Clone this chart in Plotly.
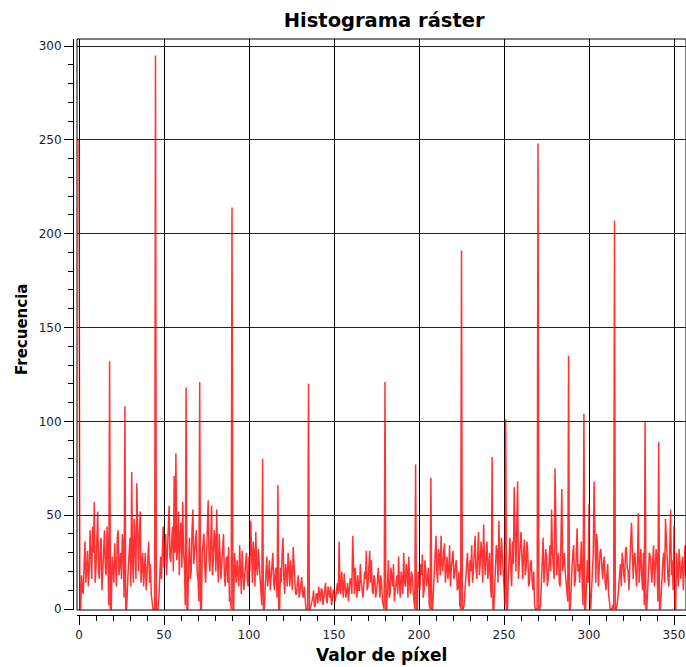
import plotly.graph_objects as go

# Frequencies.
# freq_whole[i] is the count at pixel value i, freq_half[i] at pixel value i + 0.5
freq_whole = [
    250, 0, 10, 24, 14, 31, 20, 28, 44, 57,
    22, 52, 16, 38, 25, 42, 18, 30, 132, 0,
    20, 35, 12, 42, 24, 16, 33, 108, 0, 22,
    38, 73, 14, 28, 67, 20, 52, 26, 12, 30,
    18, 36, 24, 2, 0, 295, 0, 6, 28, 36,
    22, 40, 30, 55, 25, 44, 71, 83, 32, 18,
    46, 57, 24, 118, 0, 38, 20, 53, 30, 42,
    16, 121, 0, 34, 22, 28, 58, 20, 55, 26,
    38, 53, 14, 30, 24, 40, 12, 28, 33, 6,
    214, 0, 18, 26, 12, 22, 31, 10, 24, 16,
    28, 47, 14, 30, 41, 18, 24, 8, 80, 0,
    20, 12, 26, 16, 30, 10, 22, 66, 0, 14,
    38, 8, 20, 30, 12, 18, 33, 14, 8, 18,
    10, 17, 6, 2, 0, 120, 0, 4, 10, 2,
    8, 12, 4, 10, 6, 14, 3, 9, 12, 5,
    10, 6, 14, 36, 8, 12, 19, 6, 14, 10,
    16, 39, 8, 14, 18, 10, 15, 6, 20, 31,
    12, 31, 26, 8, 16, 10, 22, 6, 14, 2,
    121, 0, 26, 8, 16, 24, 10, 18, 28, 6,
    16, 30, 12, 20, 28, 8, 18, 4, 77, 0,
    14, 24, 29, 10, 20, 16, 2, 70, 0, 22,
    39, 14, 28, 39, 20, 35, 24, 16, 34, 22,
    31, 18, 26, 12, 2, 191, 0, 10, 24, 18,
    26, 34, 20, 39, 16, 41, 24, 30, 45, 18,
    36, 26, 14, 81, 0, 22, 30, 47, 18, 26,
    12, 101, 0, 30, 22, 36, 65, 20, 68, 28,
    41, 16, 37, 22, 30, 14, 26, 10, 2, 0,
    248, 0, 14, 38, 20, 28, 16, 34, 53, 22,
    75, 18, 30, 12, 64, 26, 20, 10, 135, 0,
    22, 34, 16, 43, 24, 30, 12, 104, 0, 26,
    56, 0, 20, 68, 14, 34, 22, 32, 16, 28,
    10, 24, 4, 0, 2, 207, 0, 6, 18, 12,
    26, 14, 33, 20, 28, 46, 16, 30, 12, 51,
    24, 18, 30, 100, 0, 22, 28, 14, 34, 20,
    26, 89, 0, 18, 30, 48, 22, 12, 53, 26,
    44, 0, 20, 32, 16, 28, 29, 18, 24, 14,
]
freq_half = [
    0, 18, 8, 36, 22, 12, 42, 16, 30, 14,
    40, 20, 34, 10, 30, 22, 44, 2, 0, 28,
    14, 26, 38, 18, 30, 40, 6, 0, 16, 30,
    12, 26, 48, 16, 26, 40, 14, 30, 22, 10,
    32, 14, 8, 0, 0, 0, 0, 24, 16, 44,
    34, 18, 48, 28, 36, 20, 30, 26, 52, 40,
    22, 30, 2, 0, 26, 16, 42, 24, 36, 20,
    4, 0, 30, 40, 14, 46, 26, 36, 18, 42,
    20, 26, 40, 16, 34, 18, 26, 14, 4, 0,
    0, 30, 14, 20, 34, 8, 22, 18, 30, 12,
    20, 24, 36, 12, 22, 32, 14, 2, 0, 16,
    28, 18, 10, 24, 14, 20, 6, 0, 22, 30,
    16, 24, 12, 22, 26, 10, 20, 8, 14, 6,
    14, 8, 12, 0, 0, 0, 2, 6, 1, 8,
    3, 6, 11, 2, 10, 5, 12, 6, 2, 10,
    4, 12, 8, 10, 20, 6, 14, 10, 4, 16,
    8, 14, 22, 6, 10, 24, 8, 12, 16, 10,
    22, 14, 10, 18, 6, 14, 10, 18, 4, 0,
    0, 14, 6, 22, 12, 4, 16, 8, 14, 20,
    8, 14, 24, 6, 14, 20, 10, 0, 0, 20,
    10, 18, 6, 26, 12, 22, 0, 0, 12, 30,
    20, 32, 18, 24, 30, 14, 28, 20, 12, 30,
    16, 24, 10, 20, 0, 0, 2, 16, 30, 12,
    20, 14, 30, 22, 28, 18, 36, 14, 26, 30,
    16, 30, 6, 0, 18, 34, 14, 26, 38, 20,
    2, 0, 16, 38, 12, 24, 30, 44, 16, 34,
    22, 30, 18, 36, 12, 24, 16, 20, 0, 0,
    0, 2, 26, 14, 32, 12, 24, 20, 30, 16,
    34, 26, 14, 36, 20, 30, 14, 4, 0, 16,
    30, 12, 28, 20, 14, 36, 2, 0, 18, 14,
    8, 10, 30, 22, 40, 12, 30, 18, 24, 14,
    18, 8, 0, 0, 0, 0, 2, 16, 24, 30,
    18, 32, 22, 10, 36, 22, 28, 20, 26, 14,
    32, 10, 2, 0, 14, 30, 18, 26, 12, 32,
    4, 0, 10, 26, 14, 34, 16, 30, 18, 10,
    0, 30, 12, 26, 22, 10, 34, 16, 28, 20,
]

pixel_values = []
frequencies = []
for i, (fw, fh) in enumerate(zip(freq_whole, freq_half)):
    pixel_values += [i, i + 0.5]
    frequencies += [fw, fh]

x_ticks = [0, 50, 100, 150, 200, 250, 300, 350]
y_ticks = [0, 50, 100, 150, 200, 250, 300]

TITLE = "Histograma ráster"
X_TITLE = "Valor de píxel"
Y_TITLE = "Frecuencia"

FONT = "Verdana, DejaVu Sans, sans-serif"
TICK_COLOR = "#1c1c30"

fig = go.Figure()
fig.add_trace(go.Scatter(
    x=pixel_values, y=frequencies, mode="lines",
    line=dict(color="rgba(255,0,0,0.8)", width=1.5),
    showlegend=False, hoverinfo="x+y",
))

fig.update_layout(
    width=686, height=667,
    margin=dict(l=73, r=0, t=39, b=52),
    paper_bgcolor="white", plot_bgcolor="white",
    title=dict(text=TITLE, x=0.56, xanchor="center", y=0.970, yanchor="middle",
               font=dict(family=FONT, size=19.5, color="black", weight="bold")),
    xaxis=dict(
        domain=[4/613, 1], anchor="free", position=0,
        range=[-1.176, 357.06], tickvals=x_ticks,
        showgrid=True, gridcolor="black", gridwidth=1, zeroline=False,
        showline=True, linecolor="black", linewidth=1,
        ticks="outside", ticklen=9, tickcolor="black", tickwidth=1,
        minor=dict(dtick=10, ticks="outside", ticklen=5, tickcolor="black", showgrid=False),
        tickfont=dict(family=FONT, size=12, color=TICK_COLOR),
    ),
    yaxis=dict(
        domain=[5/576, 1], anchor="free", position=0,
        range=[-0.53, 303.73], tickvals=y_ticks,
        showgrid=True, gridcolor="#222", gridwidth=1, zeroline=False,
        showline=True, linecolor="black", linewidth=1,
        ticks="outside", ticklen=9, tickcolor="black", tickwidth=1,
        minor=dict(dtick=10, ticks="outside", ticklen=5, tickcolor="black", showgrid=False),
        tickfont=dict(family=FONT, size=12, color=TICK_COLOR),
    ),
    shapes=[dict(type="rect", xref="x domain", yref="y domain", x0=0, x1=1, y0=0, y1=1,
                 line=dict(color="black", width=1), layer="above")],
    annotations=[
        dict(text=X_TITLE, xref="paper", yref="paper", x=(381-73)/613, y=(615-655)/576,
             xanchor="center", yanchor="middle", showarrow=False,
             font=dict(family=FONT, size=17, color="black", weight="bold")),
        dict(text=Y_TITLE, xref="paper", yref="paper", x=(22-73)/613, y=(615-330)/576,
             xanchor="center", yanchor="middle", showarrow=False, textangle=-90,
             font=dict(family=FONT, size=15, color="black", weight="bold")),
    ],
)

fig.write_html("out.html", config={"displayModeBar": False},
               post_script="document.body.style.margin='0';")
